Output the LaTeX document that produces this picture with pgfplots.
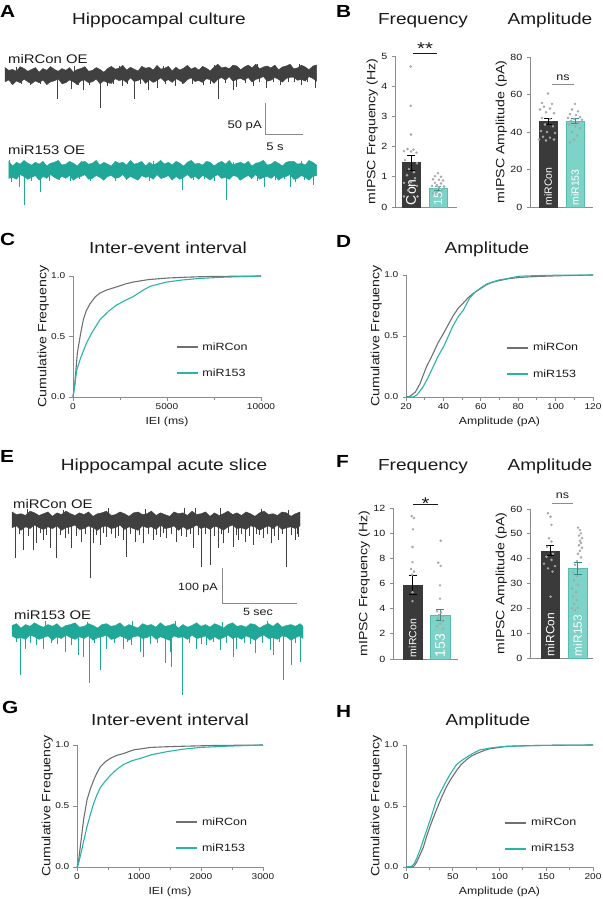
\documentclass[border=0pt]{standalone}
\usepackage{fontspec}
\setmainfont{Liberation Sans}
\usepackage{graphicx}
\usepackage{pgfplots}
\usepackage{pgfplotstable}
\pgfplotsset{compat=1.18}

\definecolor{trgray}{HTML}{404040}
\definecolor{trteal}{HTML}{1FA898}
\definecolor{bardark}{HTML}{3A3A3A}
\definecolor{barteal}{HTML}{7DD3C8}
\definecolor{bartealedge}{HTML}{55BCB0}
\definecolor{errteal}{HTML}{2E8F85}
\definecolor{cgray}{HTML}{707070}
\definecolor{cteal}{HTML}{2AB3AB}
\definecolor{axgray}{HTML}{8C8C8C}
\definecolor{txt}{HTML}{1A1A1A}
\definecolor{dotgray}{HTML}{A8A8A8}
\definecolor{scgray}{HTML}{8A8A8A}

\newcommand{\fs}[1]{\fontsize{#1bp}{#1bp}\selectfont}

% noise band envelopes of the traces (x in s, lo/hi in pA)
\pgfplotstableread[row sep=\\]{x lo hi\\
0 -11 12\\ 0.5 -8 7.5\\ 1 -15.5 9\\ 1.5 -9.5 6\\ 2 -12.5 13.5\\ 2.5 -6.5 10.5\\ 3 -11 6\\ 3.5 -14 9\\ 4 -9.5 12\\ 4.5 -12.5 4.5\\
5 -8 10.5\\ 5.5 -15.5 7.5\\ 6 -11 13.5\\ 6.5 -9.5 9\\ 7 -6.5 6\\ 7.5 -14 10.5\\ 8 -12.5 7.5\\ 8.5 -8 12\\ 9 -11 4.5\\ 9.5 -15.5 9\\
10 -9.5 10.5\\ 10.5 -8 13.5\\ 11 -12.5 6\\ 11.5 -11 7.5\\ 12 -6.5 12\\ 12.5 -14 9\\ 13 -9.5 4.5\\ 13.5 -12.5 10.5\\ 14 -13.5 14\\ 14.5 -6 9.5\\
15 -9 11\\ 15.5 -7.5 15.5\\ 16 -12 8\\ 16.5 -4.5 12.5\\ 17 -10.5 9.5\\ 17.5 -9 6.5\\ 18 -6 14\\ 18.5 -13.5 11\\ 19 -7.5 12.5\\ 19.5 -12 8\\
20 -9 15.5\\ 20.5 -4.5 9.5\\ 21 -10.5 11\\ 21.5 -7.5 14\\ 22 -12 6.5\\ 22.5 -6 12.5\\ 23 -9 8\\ 23.5 -13.5 11\\ 24 -7.5 15.5\\ 24.5 -4.5 9.5\\
25 -10.5 12.5\\ 25.5 -9 8\\ 26 -12 14\\ 26.5 -6 11\\ 27 -7.5 6.5\\ 27.5 -13.5 12.5\\ 28 -7 17.5\\ 28.5 -4 11.5\\ 29 -8.5 13\\ 29.5 -2.5 10\\
30 -10 16\\ 30.5 -7 14.5\\ 31 -5.5 8.5\\ 31.5 -8.5 13\\ 32 -4 16\\ 32.5 -11.5 11.5\\ 33 -7 17.5\\ 33.5 -5.5 10\\ 34 -2.5 13\\ 34.5 -10 14.5\\
35 -8.5 11.5\\ 35.5 -4 16\\ 36 -7 8.5\\ 36.5 -11.5 13\\ 37 -5.5 14.5\\ 37.5 -4 17.5\\ 38 -4 10\\ 38.5 -8.5 11.5\\ 39 -7 16\\ 39.5 -10 13\\
40 -2.5 8.5\\ 40.5 -5.5 14.5\\ 41 -10 16\\}\bandAg
\pgfplotstableread[row sep=\\]{x lo hi\\
0.5 -13.5 14\\ 1 -12 6.5\\ 1.5 -15 12.5\\ 2 -7.5 9.5\\ 2.5 -10.5 15.5\\ 3 -15 11\\ 3.5 -12 8\\ 4 -9 12.5\\ 4.5 -16.5 9.5\\ 5 -10.5 14\\
5.5 -13.5 6.5\\ 6 -7.5 11\\ 6.5 -12 12.5\\ 7 -15 15.5\\ 7.5 -10.5 8\\ 8 -13.5 9.5\\ 8.5 -9 14\\ 9 -16.5 11\\ 9.5 -12 6.5\\ 10 -10.5 12.5\\
10.5 -7.5 14\\ 11 -15 9.5\\ 11.5 -13.5 11\\ 12 -9 15.5\\ 12.5 -12 8\\ 13 -16.5 12.5\\ 13.5 -10.5 9.5\\ 14 -9 6.5\\ 14.5 -13.5 14\\ 15 -12 11\\
15.5 -7.5 12.5\\ 16 -15 8\\ 16.5 -10.5 15.5\\ 17 -13.5 9.5\\ 17.5 -16.5 11\\ 18 -9 14\\ 18.5 -12 6.5\\ 19 -10.5 12.5\\ 19.5 -15 8\\ 20 -7.5 11\\
20.5 -13.5 15.5\\ 21 -12 9.5\\ 21.5 -9 12.5\\ 22 -16.5 8\\ 22.5 -10.5 14\\ 23 -15 11\\ 23.5 -12 6.5\\ 24 -7.5 12.5\\ 24.5 -13.5 15.5\\ 25 -10.5 9.5\\
25.5 -15 11\\ 26 -9 8\\ 26.5 -12 14\\ 27 -16.5 12.5\\ 27.5 -10.5 6.5\\ 28 -7.5 11\\ 28.5 -13.5 14\\ 29 -12 9.5\\ 29.5 -15 15.5\\ 30 -9 8\\
30.5 -10.5 11\\ 31 -16.5 12.5\\ 31.5 -12 9.5\\ 32 -9 14\\ 32.5 -13.5 6.5\\ 33 -7.5 11\\ 33.5 -15 12.5\\ 34 -12 15.5\\ 34.5 -10.5 8\\ 35 -13.5 9.5\\
35.5 -9 14\\ 36 -16.5 11\\ 36.5 -12 6.5\\ 37 -10.5 12.5\\ 37.5 -7.5 14\\ 38 -15 14\\ 38.5 -13.5 9.5\\ 39 -9 11\\ 39.5 -12 8\\ 40 -16.5 15.5\\
40.5 -10.5 12.5\\ 41 -9 8\\}\bandAt
\pgfplotstableread[row sep=\\]{x lo hi\\
0 -22 23\\ 0.3 -17 15.5\\ 0.6 -29.5 18\\ 0.9 -19.5 13\\ 1.2 -24.5 25.5\\ 1.5 -14.5 20.5\\ 1.8 -22 13\\ 2.1 -27 18\\ 2.4 -19.5 23\\ 2.7 -24.5 10.5\\
3.0 -17 20.5\\ 3.3 -29.5 15.5\\ 3.6 -22 25.5\\ 3.9 -19.5 18\\ 4.2 -14.5 13\\ 4.5 -27 20.5\\ 4.8 -24.5 15.5\\ 5.1 -17 23\\ 5.4 -22 10.5\\ 5.7 -29.5 18\\
6.0 -19.5 20.5\\ 6.3 -17 25.5\\ 6.6 -24.5 13\\ 6.9 -22 15.5\\ 7.2 -14.5 23\\ 7.5 -27 18\\ 7.8 -19.5 10.5\\ 8.1 -24.5 20.5\\ 8.4 -29.5 23\\ 8.7 -17 15.5\\
9.0 -22 18\\ 9.3 -19.5 25.5\\ 9.6 -27 13\\ 9.9 -14.5 20.5\\ 10.2 -24.5 15.5\\ 10.5 -22 10.5\\ 10.8 -17 23\\ 11.1 -29.5 18\\ 11.4 -19.5 20.5\\ 11.7 -27 13\\
12.0 -22 25.5\\ 12.3 -14.5 15.5\\ 12.6 -24.5 18\\ 12.9 -19.5 23\\ 13.2 -27 10.5\\ 13.5 -17 20.5\\ 13.8 -22 13\\ 14.1 -29.5 18\\ 14.4 -19.5 25.5\\ 14.7 -14.5 15.5\\
15.0 -24.5 20.5\\ 15.3 -22 13\\ 15.6 -27 23\\ 15.9 -17 18\\ 16.2 -19.5 10.5\\ 16.5 -29.5 20.5\\ 16.8 -22 25.5\\ 17.1 -17 15.5\\ 17.4 -24.5 18\\ 17.7 -14.5 13\\
18.0 -27 23\\ 18.3 -22 20.5\\ 18.6 -19.5 10.5\\ 18.9 -24.5 18\\ 19.2 -17 23\\}\bandEg
\pgfplotstableread[row sep=\\]{x lo hi\\
0 -14 16\\ 0.3 -21.5 21\\ 0.6 -19 8.5\\ 0.9 -24 18.5\\ 1.2 -11.5 13.5\\ 1.5 -16.5 23.5\\ 1.8 -24 16\\ 2.1 -19 11\\ 2.4 -14 18.5\\ 2.7 -26.5 13.5\\
3.0 -16.5 21\\ 3.3 -21.5 8.5\\ 3.6 -11.5 16\\ 3.9 -19 18.5\\ 4.2 -24 23.5\\ 4.5 -16.5 11\\ 4.8 -21.5 13.5\\ 5.1 -14 21\\ 5.4 -26.5 16\\ 5.7 -19 8.5\\
6.0 -16.5 18.5\\ 6.3 -11.5 21\\ 6.6 -24 13.5\\ 6.9 -21.5 16\\ 7.2 -14 23.5\\ 7.5 -19 11\\ 7.8 -26.5 18.5\\ 8.1 -16.5 13.5\\ 8.4 -14 8.5\\ 8.7 -21.5 21\\
9.0 -19 16\\ 9.3 -11.5 18.5\\ 9.6 -24 11\\ 9.9 -16.5 23.5\\ 10.2 -21.5 13.5\\ 10.5 -26.5 16\\ 10.8 -14 21\\ 11.1 -19 8.5\\ 11.4 -16.5 18.5\\ 11.7 -24 11\\
12.0 -11.5 16\\ 12.3 -21.5 23.5\\ 12.6 -19 13.5\\ 12.9 -14 18.5\\ 13.2 -26.5 11\\ 13.5 -16.5 21\\ 13.8 -24 16\\ 14.1 -19 8.5\\ 14.4 -11.5 18.5\\ 14.7 -21.5 23.5\\
15.0 -16.5 13.5\\ 15.3 -24 16\\ 15.6 -14 11\\ 15.9 -19 21\\ 16.2 -26.5 18.5\\ 16.5 -16.5 8.5\\ 16.8 -11.5 16\\ 17.1 -21.5 21\\ 17.4 -19 13.5\\ 17.7 -24 23.5\\
18.0 -14 11\\ 18.3 -16.5 16\\ 18.6 -26.5 18.5\\ 18.9 -19 13.5\\ 19.2 -14 21\\ 19.4 -21.5 13.5\\}\bandEt

\pgfplotsset{
 trace/.style={hide axis, anchor=south west, clip=false},
 hair/.style={draw=none, mark=none, error bars/.cd, y dir=plus, y explicit, error mark=none, error bar style={line width=0.9bp, draw=#1}},
 cax/.style={scale only axis, anchor=south west, axis lines=left,
   axis line style={draw=axgray, line width=0.9bp, -},
   tick style={draw=axgray, line width=0.9bp}, tick align=outside,
   major tick length=3.5bp, minor tick length=2.5bp,
   /pgf/number format/assume math mode=true,
   tick label style={font=\fs{8.5}, text=txt, xscale=1.19},
   ylabel style={font=\fs{12}, xscale=1.18, text=txt},
   xlabel style={font=\fs{10.3}, xscale=1.19, text=txt},
   ylabel shift=-5bp,
   scaled ticks=false, clip=false, ymin=0, ymax=1, ytick={0,0.5,1},
   yticklabel style={/pgf/number format/fixed, /pgf/number format/fixed zerofill, /pgf/number format/precision=1},
   xticklabel style={/pgf/number format/1000 sep={}},
   ylabel={Cumulative Frequency},
   legend style={draw=none, fill=none, font=\fs{10.5}, anchor=north west, row sep=15bp, column sep=3bp, inner sep=0pt, nodes={inner sep=1bp, text=txt}},
   legend cell align=left,
   legend image code/.code={\draw[##1, line width=1.8bp] (0bp,0bp) -- (21bp,0bp);}},
 bax/.style={scale only axis, anchor=south west, axis lines=left,
   axis line style={draw=axgray, line width=0.9bp, -},
   tick style={draw=axgray, line width=0.9bp}, tick align=outside,
   major tick length=3.5bp,
   /pgf/number format/assume math mode=true,
   tick label style={font=\fs{9}, text=txt, xscale=1.19},
   ylabel style={font=\fs{12}, xscale=1.18, text=txt},
   ylabel shift=-4bp,
   xtick=\empty, xmin=0, ymin=0, clip=false},
 barD/.style={ybar, bar width=#1, bar shift=0pt, fill=bardark, draw=bardark},
 barT/.style={ybar, bar width=#1, bar shift=0pt, fill=barteal, draw=bartealedge},
 errb/.style={draw=none, mark=none, error bars/.cd, y dir=both, y explicit, error bar style={line width=0.9bp, draw=#1}, error mark options={draw=#1, line width=0.9bp, mark size=4bp, rotate=90}},
 dots/.style={only marks, mark=*, color=dotgray, mark size=1.05bp, mark options={fill=dotgray, draw=none}},
 cg/.style={cgray, line width=1.1bp, mark=none},
 ct/.style={cteal, line width=1.1bp, mark=none},
}
\tikzset{blab/.style={rotate=90, anchor=west, text=white, inner sep=0.5bp},
 ttl/.style={font=\fs{16}, xscale=1.19, anchor=base, text=txt, inner sep=0pt},
 plet/.style={font=\bfseries\fs{17.5}, xscale=1.19, anchor=base west, text=black, inner sep=0pt},
 tlab/.style={font=\fs{12.5}, xscale=1.19, anchor=base west, text=txt, inner sep=0pt}}

\begin{document}
\begin{tikzpicture}
\useasboundingbox (0,0) rectangle (603bp,-899bp);

% ---------------- Panel A ----------------
\node[plet] at (0bp,-17bp) {A};
\node[ttl] at (159bp,-24bp) {Hippocampal culture};
\node[tlab] at (8bp,-63bp) {miRCon OE};
\node[tlab] at (8bp,-154bp) {miR153 OE};
\draw[scgray, line width=0.9bp] (265bp,-103bp) -- (265bp,-134bp) -- (303bp,-134bp);
\node[font=\fs{11}, xscale=1.19, anchor=base east, inner sep=0pt, text=txt] at (262bp,-128bp) {50 pA};
\node[font=\fs{11}, xscale=1.19, anchor=base, inner sep=0pt, text=txt] at (275bp,-150bp) {5 s};

\begin{axis}[trace, at={(5bp,-112.2bp)}, x=7.6bp, y=0.62bp, xmin=0, xmax=41, ymin=-60, ymax=20, stack plots=y]
\addplot[draw=none, mark=none] table[x=x, y=lo] {\bandAg};
\addplot[fill=trgray, draw=trgray, line width=0.4bp, mark=none] table[x=x, y expr=\thisrow{hi}-\thisrow{lo}] {\bandAg} \closedcycle;
\end{axis}
\begin{axis}[trace, at={(5bp,-112.2bp)}, x=7.6bp, y=0.62bp, xmin=0, xmax=41, ymin=-60, ymax=20]
\addplot[hair=trgray] table[x=x, y=lo, y error expr=\thisrow{hi}-\thisrow{lo}, row sep=\\] {x lo hi\\
0.8 -15 0\\ 2.1 -14 0\\ 3.3 -16 0\\ 4.6 -15 0\\ 5.5 -14 0\\ 6.9 -38 0\\ 7.6 -15 0\\ 8.8 -23 0\\ 9.6 -16 0\\ 10.3 -24 0\\
11.1 -16 0\\ 12.5 -54 0\\ 13.5 -18 0\\ 14.3 -15 0\\ 15.4 -17 0\\ 16.1 -14 0\\ 17.0 -38 0\\ 17.8 -15 0\\ 18.9 -24 0\\ 20.0 -21 0\\
21.1 -15 0\\ 22.4 -18 0\\ 23.3 -14 0\\ 24.6 -15 0\\ 26.1 -16 0\\ 27.0 -14 0\\ 28.1 -38 0\\ 29.0 -13 0\\ 30.0 -24 0\\ 30.5 -19 0\\
31.6 -13 0\\ 32.7 -18 0\\ 33.5 -12 0\\ 34.4 -21 0\\ 35.3 -12 0\\ 36.2 -16 0\\ 37.3 -11 0\\ 38.1 -12 0\\ 39.0 -16 0\\ 39.8 -11 0\\
40.8 -21 0\\ 1.5 0 13\\ 9.2 0 14\\ 15 0 15\\ 20.8 0 14\\ 27.5 0 16\\ 33.2 0 17\\ 38.8 0 17\\ 40.9 0 16\\};
\end{axis}

\begin{axis}[trace, at={(5bp,-207.2bp)}, x=7.6bp, y=0.62bp, xmin=0, xmax=41, ymin=-60, ymax=20, stack plots=y]
\addplot[draw=none, mark=none] table[x=x, y=lo] {\bandAt};
\addplot[fill=trteal, draw=trteal, line width=0.4bp, mark=none] table[x=x, y expr=\thisrow{hi}-\thisrow{lo}] {\bandAt} \closedcycle;
\end{axis}
\begin{axis}[trace, at={(5bp,-207.2bp)}, x=7.6bp, y=0.62bp, xmin=0, xmax=41, ymin=-60, ymax=20]
\addplot[hair=trteal] table[x=x, y=lo, y error expr=\thisrow{hi}-\thisrow{lo}, row sep=\\] {x lo hi\\
0.9 -19 0\\ 1.9 -27 0\\ 2.6 -56 0\\ 3.5 -17 0\\ 4.6 -36 0\\ 5.8 -17 0\\ 7.2 -16 0\\ 8.6 -18 0\\ 9.8 -15 0\\ 11.3 -17 0\\
12.8 -15 0\\ 14.5 -18 0\\ 16.0 -16 0\\ 17.4 -15 0\\ 19.0 -17 0\\ 20.6 -15 0\\ 22.0 -16 0\\ 23.4 -32 0\\ 24.8 -16 0\\ 26.3 -15 0\\
27.6 -17 0\\ 29.2 -48 0\\ 30.8 -16 0\\ 32.4 -15 0\\ 33.2 -18 0\\ 34.2 -27 0\\ 35.6 -16 0\\ 36.8 -15 0\\ 37.5 -27 0\\ 38.2 -19 0\\
39.4 -16 0\\ 40.6 -24 0\\ 0.6 0 16\\ 10 0 14\\ 19.5 0 14\\ 30 0 13\\ 39 0 14\\};
\end{axis}

% ---------------- Panel B ----------------
\node[plet] at (336bp,-17bp) {B};
\node[ttl] at (423bp,-24bp) {Frequency};
\node[ttl] at (550bp,-24bp) {Amplitude};

\begin{axis}[bax, at={(395bp,-207bp)}, width=62bp, height=151bp, xmax=62, ymax=5, ytick={0,1,2,3,4,5}, ylabel={mIPSC Frequency (Hz)}]
\addplot[barD=18bp] coordinates {(16,1.47)};
\addplot[barT=18bp] coordinates {(43,0.62)};
\addplot[dots] coordinates {(15.7,4.65) (15.7,3.35) (16,2.4) (12.5,1.92) (18.5,1.9) (9,1.85) (16,1.84) (21.5,1.8) (10,1.55) (22,1.45) (14,1.25) (19,1.15) (12,1.05) (20,0.95) (9,0.8) (16,0.82) (22,0.7) (13,0.55) (9,0.35) (22.5,0.35)};
\addplot[dots] coordinates {(43,1.12) (40,1.02) (46,1.0) (38,0.92) (44,0.9) (48,0.88) (40,0.8) (46,0.78) (42,0.72) (37,0.7) (49,0.68) (44,0.65) (40,0.6) (47,0.58) (42,0.5) (38,0.45) (45,0.4)};
\addplot[errb=black] coordinates {(16,1.47) +- (0,0.25)};
\addplot[errb=errteal] coordinates {(43,0.62) +- (0,0.06)};
\node[blab, font=\fs{14}] at (axis cs:16,0.04) {Con};
\node[blab, font=\fs{12}] at (axis cs:43,0.04) {153};
\draw[txt, line width=0.8bp] (axis cs:18,5.1) -- (axis cs:42,5.1);
\node[font=\fs{17}, xscale=1.19, anchor=base, inner sep=0pt, text=txt] at (axis cs:30,5.04) {**};
\end{axis}

\begin{axis}[bax, at={(530bp,-207bp)}, width=63bp, height=150bp, xmax=63, ymax=80, ytick={0,20,40,60,80}, ylabel={mIPSC Amplitude (pA)}]
\addplot[barD=18bp] coordinates {(18,45.5)};
\addplot[barT=18bp] coordinates {(45,46)};
\addplot[dots] coordinates {(18,60.5) (12,55.5) (22,55) (14,53.5) (20,52.5) (10,52) (16,50.5) (24,50) (12,47.5) (20,47) (15,44) (23,43) (11,40.5) (17,40) (25,39.5) (13,37.5) (20,37) (9,36) (24,36) (16,35.5)};
\addplot[dots] coordinates {(45,55) (42,52) (48,51) (40,49.5) (46,49) (50,48) (38,47.5) (44,47) (52,46.5) (41,46) (48,45) (39,44) (45,43) (50,42) (42,40) (47,38) (44,36) (40,34.5)};
\addplot[errb=black] coordinates {(18,45.5) +- (0,1.5)};
\addplot[errb=errteal] coordinates {(45,46) +- (0,1.2)};
\node[blab, font=\fs{10.5}] at (axis cs:18,0.4) {miRCon};
\node[blab, font=\fs{10.5}] at (axis cs:45,0.4) {miR153};
\draw[axgray, line width=0.8bp] (axis cs:22,65.6) -- (axis cs:44,65.6);
\node[font=\fs{10.5}, xscale=1.19, anchor=base, inner sep=0pt, text=txt] at (axis cs:33,67.7) {ns};
\end{axis}

% ---------------- Panel C ----------------
\node[plet] at (0bp,-245bp) {C};
\node[ttl] at (168bp,-253bp) {Inter-event interval};
\begin{axis}[cax, at={(73bp,-397bp)}, width=188bp, height=121bp, xmin=0, xmax=10000, xtick={0,5000,10000}, minor x tick num=1, xlabel={IEI (ms)}, legend style={at={(0.545,0.46)}}]
\addplot[cg] table[row sep=\\] {x y\\ 0 0\\ 100 0.12\\ 230 0.36\\ 400 0.52\\ 550 0.64\\ 700 0.71\\ 900 0.77\\ 1200 0.83\\ 1440 0.86\\ 1800 0.885\\ 2320 0.91\\ 2800 0.935\\ 3200 0.95\\ 4000 0.97\\ 5000 0.983\\ 6000 0.99\\ 7000 0.995\\ 8500 0.998\\ 10000 1.0\\};
\addlegendentry{\scalebox{1.19}[1]{miRCon}}
\addplot[ct] table[row sep=\\] {x y\\ 0 0\\ 100 0.1\\ 195 0.22\\ 400 0.32\\ 730 0.45\\ 1000 0.53\\ 1440 0.64\\ 1900 0.71\\ 2320 0.76\\ 2800 0.8\\ 3200 0.83\\ 3700 0.88\\ 4100 0.915\\ 4600 0.935\\ 4980 0.95\\ 5800 0.967\\ 6750 0.98\\ 8000 0.99\\ 10000 1.0\\};
\addlegendentry{\scalebox{1.19}[1]{miR153}}
\end{axis}

% ---------------- Panel D ----------------
\node[plet] at (336bp,-247bp) {D};
\node[ttl] at (487bp,-253bp) {Amplitude};
\begin{axis}[cax, at={(406bp,-397bp)}, width=187bp, height=122bp, xmin=20, xmax=120, xtick={20,40,60,80,100,120}, minor x tick num=1, xlabel={Amplitude (pA)}, legend style={at={(0.535,0.45)}}]
\addplot[cg] table[row sep=\\] {x y\\ 20 0\\ 22 0.005\\ 25 0.04\\ 27.5 0.11\\ 29 0.17\\ 31 0.25\\ 33 0.31\\ 34.6 0.36\\ 37 0.44\\ 40 0.52\\ 42.5 0.59\\ 45 0.66\\ 48 0.73\\ 50.6 0.77\\ 53 0.81\\ 56 0.85\\ 60 0.89\\ 63 0.92\\ 66 0.94\\ 70 0.955\\ 75 0.97\\ 80.5 0.98\\ 90 0.988\\ 100 0.993\\ 110 0.997\\ 120 1.0\\};
\addlegendentry{\scalebox{1.19}[1]{miRCon}}
\addplot[ct] table[row sep=\\] {x y\\ 20 0\\ 24 0\\ 26 0.02\\ 29 0.08\\ 31.5 0.15\\ 34.6 0.25\\ 37 0.33\\ 40 0.41\\ 43 0.51\\ 45 0.58\\ 48 0.66\\ 50.6 0.71\\ 54 0.81\\ 57 0.86\\ 59.6 0.89\\ 63 0.925\\ 66.7 0.945\\ 70 0.96\\ 73.8 0.97\\ 77 0.98\\ 80.5 0.99\\ 90 0.995\\ 100 0.998\\ 120 1.0\\};
\addlegendentry{\scalebox{1.19}[1]{miR153}}
\end{axis}

% ---------------- Panel E ----------------
\node[plet] at (0bp,-462bp) {E};
\node[ttl] at (164bp,-470bp) {Hippocampal acute slice};
\node[tlab] at (13bp,-508bp) {miRCon OE};
\node[tlab] at (14bp,-619bp) {miR153 OE};
\draw[scgray, line width=0.9bp] (222bp,-568bp) -- (222bp,-603bp) -- (297bp,-603bp);
\node[font=\fs{10.5}, xscale=1.19, anchor=base east, inner sep=0pt, text=txt] at (218bp,-590bp) {100 pA};
\node[font=\fs{10.5}, xscale=1.19, anchor=base, inner sep=0pt, text=txt] at (258bp,-615bp) {5 sec};

\begin{axis}[trace, at={(12bp,-583bp)}, x=15bp, y=0.35bp, xmin=0, xmax=19.4, ymin=-180, ymax=40, stack plots=y]
\addplot[draw=none, mark=none] table[x=x, y=lo] {\bandEg};
\addplot[fill=trgray, draw=trgray, line width=0.4bp, mark=none] table[x=x, y expr=\thisrow{hi}-\thisrow{lo}] {\bandEg} \closedcycle;
\end{axis}
\begin{axis}[trace, at={(12bp,-583bp)}, x=15bp, y=0.35bp, xmin=0, xmax=19.4, ymin=-180, ymax=40]
\addplot[hair=trgray] table[x=x, y=lo, y error expr=\thisrow{hi}-\thisrow{lo}, row sep=\\] {x lo hi\\
0.2 -109 0\\ 0.76 -86 0\\ 1.42 -86 0\\ 1.64 -67 0\\ 2.09 -57 0\\ 2.53 -81 0\\ 2.98 -109 0\\ 3.53 -52 0\\ 3.98 -81 0\\ 4.64 -62 0\\
5.2 -167 0\\ 5.42 -67 0\\ 5.87 -71 0\\ 6.31 -48 0\\ 6.87 -52 0\\ 7.42 -57 0\\ 7.64 -105 0\\ 8.2 -62 0\\ 8.76 -67 0\\ 9.42 -57 0\\
9.87 -48 0\\ 10.31 -52 0\\ 10.98 -62 0\\ 11.64 -48 0\\ 12.09 -81 0\\ 12.64 -133 0\\ 13.2 -129 0\\ 13.76 -81 0\\ 14.09 -67 0\\ 14.76 -76 0\\
15.09 -57 0\\ 15.53 -62 0\\ 16.09 -71 0\\ 16.76 -52 0\\ 17.31 -67 0\\ 17.76 -57 0\\ 18.31 -133 0\\ 18.87 -57 0\\ 19.09 -48 0\\
0.5 -40 0\\ 1.1 -45 0\\ 1.9 -38 0\\ 2.3 -42 0\\ 3.2 -44 0\\ 3.75 -39 0\\ 4.3 -46 0\\ 4.9 -40 0\\ 5.6 -43 0\\ 6.1 -38 0\\
6.6 -41 0\\ 7.1 -45 0\\ 7.9 -39 0\\ 8.5 -42 0\\ 9.1 -40 0\\ 9.65 -44 0\\ 10.1 -38 0\\ 10.6 -41 0\\ 11.3 -46 0\\ 11.9 -39 0\\
12.4 -43 0\\ 12.9 -40 0\\ 13.5 -45 0\\ 13.95 -41 0\\ 14.4 -38 0\\ 14.95 -44 0\\ 15.3 -40 0\\ 15.8 -46 0\\ 16.3 -39 0\\ 16.5 -43 0\\
17.0 -41 0\\ 17.5 -45 0\\ 18.0 -39 0\\ 18.6 -42 0\\ 19.0 -40 0\\
1.0 0 32\\ 3.4 0 30\\ 6.4 0 33\\ 8.9 0 31\\ 11.5 0 35\\ 12.2 0 33\\ 13.9 0 34\\ 16.6 0 31\\ 18.4 0 30\\};
\end{axis}

\begin{axis}[trace, at={(12bp,-697.5bp)}, x=15bp, y=0.35bp, xmin=0, xmax=19.4, ymin=-190, ymax=40, stack plots=y]
\addplot[draw=none, mark=none] table[x=x, y=lo] {\bandEt};
\addplot[fill=trteal, draw=trteal, line width=0.4bp, mark=none] table[x=x, y expr=\thisrow{hi}-\thisrow{lo}] {\bandEt} \closedcycle;
\end{axis}
\begin{axis}[trace, at={(12bp,-697.5bp)}, x=15bp, y=0.35bp, xmin=0, xmax=19.4, ymin=-190, ymax=40]
\addplot[hair=trteal] table[x=x, y=lo, y error expr=\thisrow{hi}-\thisrow{lo}, row sep=\\] {x lo hi\\
0.53 -126 0\\ 0.87 -50 0\\ 1.64 -40 0\\ 2.09 -50 0\\ 3.53 -59 0\\ 3.98 -40 0\\ 4.42 -69 0\\ 4.76 -73 0\\ 5.16 -149 0\\ 5.87 -111 0\\
6.31 -50 0\\ 7.42 -50 0\\ 7.98 -40 0\\ 8.53 -59 0\\ 8.76 -73 0\\ 10.2 -92 0\\ 10.53 -59 0\\ 10.64 -103 0\\ 11.36 -183 0\\ 12.31 -50 0\\
12.98 -40 0\\ 13.87 -55 0\\ 14.76 -73 0\\ 14.98 -50 0\\ 16.2 -64 0\\ 17.2 -55 0\\ 17.42 -69 0\\ 18.09 -140 0\\ 18.64 -97 0\\ 19.2 -88 0\\
0.3 -32 0\\ 1.2 -35 0\\ 2.6 -33 0\\ 3.0 -36 0\\ 5.5 -34 0\\ 6.8 -35 0\\ 7.7 -32 0\\ 9.2 -36 0\\ 9.7 -33 0\\ 11.8 -34 0\\
12.6 -36 0\\ 13.4 -32 0\\ 14.3 -35 0\\ 15.5 -33 0\\ 15.9 -36 0\\ 16.7 -34 0\\ 17.8 -32 0\\ 18.9 -35 0\\
2.2 0 28\\ 5.0 0 27\\ 8.0 0 29\\ 10.9 0 28\\ 14.0 0 27\\ 17.0 0 28\\};
\end{axis}

% ---------------- Panel F ----------------
\node[plet] at (336bp,-467bp) {F};
\node[ttl] at (423bp,-470bp) {Frequency};
\node[ttl] at (550bp,-470bp) {Amplitude};

\begin{axis}[bax, at={(393bp,-659bp)}, width=65bp, height=151bp, xmax=65, ymax=12, ytick={0,2,4,6,8,10,12}, ylabel={mIPSC Frequency (Hz)}]
\addplot[barD=19.5bp] coordinates {(19.5,5.9)};
\addplot[barT=19.5bp] coordinates {(47,3.5)};
\addplot[dots] coordinates {(18.7,11.35) (21,11.2) (20,10.3) (19.5,8.9) (19.5,7.7) (18,7.15) (21,6.95) (19,6.7) (19.5,5.3) (19.5,4.6)};
\addplot[dots] coordinates {(47.7,9.4) (45.3,7.65) (47.7,7.4) (47,5.85) (47,4.8) (44,3.8) (48,3.7) (46,3.5) (50,3.4) (45,3.2) (49,3.0) (47,2.8) (44,2.6) (50,2.4)};
\addplot[errb=black] coordinates {(19.5,5.9) +- (0,0.75)};
\addplot[errb=errteal] coordinates {(47,3.5) +- (0,0.45)};
\node[blab, font=\fs{10.5}] at (axis cs:19.5,0.1) {miRCon};
\node[blab, font=\fs{14}] at (axis cs:47,0.1) {153};
\draw[txt, line width=0.8bp] (axis cs:20,12.3) -- (axis cs:45,12.3);
\node[font=\fs{17}, xscale=1.19, anchor=base, inner sep=0pt, text=txt] at (axis cs:32.5,11.9) {*};
\end{axis}

\begin{axis}[bax, at={(530bp,-658bp)}, width=63bp, height=149bp, xmax=63, ymax=60, ytick={0,10,20,30,40,50,60}, ylabel={mIPSC Amplitude (pA)}]
\addplot[barD=18.5bp] coordinates {(20,43.2)};
\addplot[barT=18.5bp] coordinates {(47.5,36)};
\addplot[dots] coordinates {(18,58.3) (20.5,56.9) (21.5,53.6) (19,48.2) (21.5,46.9) (17,44.8) (16.5,40.8) (21.5,39.5) (23,42) (18,36.1) (22.5,34.8) (20.5,24.7) (14,38) (25,37)};
\addplot[dots] coordinates {(48,52.5) (50,51.5) (51,50.2) (49,49.3) (52,48.3) (50,47.2) (51,46.3) (49,45.4) (52,44.4) (50,43.2) (48,42) (51,40.5) (47,39) (45,37.5) (49,35.8) (43,34.5) (47,33) (44,31.2) (48,29.5) (42,28) (46,26.5) (43,24.8) (47,23.2) (44,21.8) (48,20.3) (45,19.3) (42,20)};
\addplot[errb=black] coordinates {(20,43.2) +- (0,2)};
\addplot[errb=errteal] coordinates {(47.5,36) +- (0,2.4)};
\node[blab, font=\fs{12}] at (axis cs:20,0.4) {miRCon};
\node[blab, font=\fs{12}] at (axis cs:47.5,0.4) {miR153};
\draw[axgray, line width=0.8bp] (axis cs:22,62.4) -- (axis cs:43,62.4);
\node[font=\fs{10.5}, xscale=1.19, anchor=base, inner sep=0pt, text=txt] at (axis cs:32.5,64.4) {ns};
\end{axis}

% ---------------- Panel G ----------------
\node[plet] at (2bp,-713bp) {G};
\node[ttl] at (170bp,-725bp) {Inter-event interval};
\begin{axis}[cax, at={(77bp,-867bp)}, width=186bp, height=122bp, xmin=0, xmax=3000, xtick={0,1000,2000,3000}, minor x tick num=1, xlabel={IEI (ms)}, legend style={at={(0.527,0.415)}}]
\addplot[cg] table[row sep=\\] {x y\\ 0 0\\ 20 0.03\\ 54 0.17\\ 107 0.39\\ 161 0.55\\ 215 0.64\\ 268 0.71\\ 320 0.77\\ 375 0.82\\ 450 0.86\\ 536 0.89\\ 640 0.915\\ 750 0.93\\ 911 0.96\\ 1050 0.97\\ 1179 0.98\\ 1400 0.985\\ 1714 0.99\\ 2200 0.996\\ 3000 1.0\\};
\addlegendentry{\scalebox{1.19}[1]{miRCon}}
\addplot[ct] table[row sep=\\] {x y\\ 0 0\\ 20 0.02\\ 54 0.09\\ 107 0.21\\ 161 0.33\\ 215 0.43\\ 268 0.52\\ 320 0.59\\ 375 0.65\\ 450 0.7\\ 536 0.75\\ 640 0.8\\ 750 0.84\\ 880 0.87\\ 1018 0.89\\ 1200 0.92\\ 1446 0.945\\ 1700 0.965\\ 1982 0.98\\ 2400 0.99\\ 3000 1.0\\};
\addlegendentry{\scalebox{1.19}[1]{miR153}}
\end{axis}

% ---------------- Panel H ----------------
\node[plet] at (336bp,-717bp) {H};
\node[ttl] at (488bp,-725bp) {Amplitude};
\begin{axis}[cax, at={(406bp,-867bp)}, width=187bp, height=122bp, xmin=0, xmax=200, xtick={0,50,100,150,200}, minor x tick num=1, xlabel={Amplitude (pA)}, legend style={at={(0.525,0.41)}}]
\addplot[cg] table[row sep=\\] {x y\\ 0 0\\ 6 0\\ 9 0.01\\ 11.4 0.04\\ 15 0.1\\ 18.5 0.16\\ 22 0.25\\ 25.6 0.33\\ 29 0.4\\ 32.7 0.47\\ 38 0.57\\ 43.4 0.66\\ 48 0.72\\ 54 0.79\\ 59 0.84\\ 64.8 0.88\\ 70 0.91\\ 75.4 0.93\\ 82 0.95\\ 89.7 0.97\\ 100 0.98\\ 107.5 0.99\\ 130 0.995\\ 160 0.998\\ 200 1.0\\};
\addlegendentry{\scalebox{1.19}[1]{miRCon}}
\addplot[ct] table[row sep=\\] {x y\\ 0 0\\ 6 0.005\\ 9 0.03\\ 11.4 0.07\\ 15 0.14\\ 18.5 0.22\\ 22 0.3\\ 25.6 0.38\\ 29 0.46\\ 32.7 0.55\\ 38 0.63\\ 43.4 0.71\\ 48 0.77\\ 54 0.84\\ 59 0.87\\ 64.8 0.9\\ 70 0.925\\ 79 0.96\\ 90 0.975\\ 100 0.985\\ 115 0.99\\ 140 0.996\\ 170 0.999\\ 200 1.0\\};
\addlegendentry{\scalebox{1.19}[1]{miR153}}
\end{axis}

\end{tikzpicture}
\end{document}
